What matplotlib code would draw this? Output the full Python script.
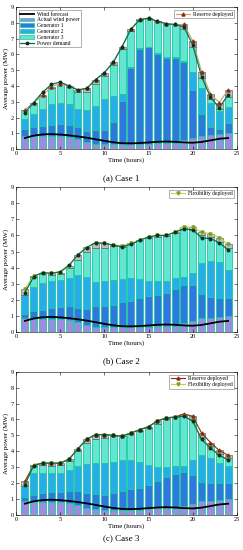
import numpy as np
import matplotlib
matplotlib.use("Agg")
import matplotlib.pyplot as plt
from matplotlib.patches import Patch
from matplotlib.lines import Line2D

plt.rcParams['font.family'] = ['Liberation Serif', 'DejaVu Serif']

hours = np.arange(1, 25)

# shared wind data
wind_fc = [0.7, 0.85, 0.93, 0.95, 0.92, 0.87, 0.8, 0.72, 0.62, 0.52, 0.43, 0.37,
           0.36, 0.38, 0.42, 0.46, 0.48, 0.46, 0.42, 0.4, 0.45, 0.55, 0.65, 0.7]
wind_act = [0.85, 0.82, 0.82, 0.82, 0.8, 0.75, 0.62, 0.45, 0.35, 0.3, 0.3, 0.3,
            0.3, 0.3, 0.35, 0.4, 0.4, 0.4, 0.55, 0.7, 0.85, 0.9, 0.95, 1.0]

# stacked levels (top of each layer)
c1_g1 = [1.3, 1.4, 1.45, 1.55, 1.6, 1.55, 1.4, 1.15, 1.2, 1.2, 1.7, 3.05,
         5.15, 6.35, 6.45, 6.05, 5.8, 5.8, 5.55, 3.75, 2.2, 1.4, 1.3, 1.65]
c1_g2 = [1.9, 2.2, 2.55, 2.85, 2.95, 2.85, 2.55, 2.45, 2.75, 3.15, 3.35, 3.5,
         5.2, 6.4, 6.5, 6.1, 5.85, 5.85, 5.6, 4.9, 3.85, 2.9, 2.4, 2.65]
c1_g3 = [2.46, 2.9, 3.37, 3.9, 4.1, 3.95, 3.6, 3.6, 4.1, 4.65, 5.3, 6.35,
         7.5, 8.2, 8.3, 8.1, 7.95, 7.9, 7.6, 6.5, 4.5, 3.2, 2.55, 3.3]
c1_res = [2.5, 2.95, 3.4, 3.95, 4.15, 4.0, 3.75, 3.85, 4.4, 4.85, 5.5, 6.5,
          7.6, 8.25, 8.3, 8.1, 7.95, 7.9, 7.9, 6.85, 4.9, 3.5, 2.95, 3.75]
c1_dem = [2.3, 2.95, 3.6, 4.1, 4.25, 4.0, 3.75, 3.85, 4.4, 4.85, 5.5, 6.5,
          7.6, 8.2, 8.3, 8.1, 7.95, 7.9, 7.75, 6.6, 4.6, 3.3, 2.6, 3.45]

c2_g1 = [1.15, 1.3, 1.4, 1.5, 1.55, 1.6, 1.5, 1.45, 1.65, 1.6, 1.7, 1.85,
         1.95, 2.1, 2.25, 2.3, 2.4, 2.65, 2.95, 2.9, 2.35, 2.2, 2.15, 2.1]
c2_g2 = [2.3, 2.8, 3.05, 3.2, 3.25, 3.35, 3.55, 3.45, 3.1, 3.2, 3.25, 3.3,
         3.35, 3.3, 3.2, 3.2, 3.2, 3.35, 3.4, 3.7, 4.3, 4.4, 4.35, 3.85]
c2_g3 = [2.3, 3.45, 3.6, 3.55, 3.6, 4.0, 4.5, 5.0, 5.25, 5.25, 5.35, 5.3,
         5.5, 5.7, 5.85, 5.9, 5.95, 6.15, 6.4, 6.35, 6.0, 5.9, 5.6, 5.2]
c2_flx = [2.7, 3.5, 3.65, 3.65, 3.7, 4.1, 4.8, 5.25, 5.55, 5.5, 5.4, 5.35,
          5.5, 5.7, 5.9, 6.0, 6.0, 6.2, 6.55, 6.5, 6.2, 6.1, 5.85, 5.45]
c2_dem = [2.45, 3.45, 3.7, 3.65, 3.75, 4.15, 4.8, 5.25, 5.55, 5.5, 5.4, 5.3,
          5.45, 5.7, 5.9, 6.0, 6.0, 6.2, 6.4, 6.35, 5.85, 5.8, 5.55, 5.1]

c3_g1 = [1.1, 1.25, 1.35, 1.45, 1.45, 1.5, 1.5, 1.35, 1.3, 1.25, 1.35, 1.5,
         1.6, 1.7, 1.85, 2.1, 2.4, 2.55, 2.7, 2.5, 2.05, 2.0, 2.0, 2.0]
c3_g2 = [1.8, 2.6, 2.65, 2.65, 2.65, 2.8, 3.05, 3.2, 3.25, 3.25, 3.3, 3.45,
         3.45, 3.35, 3.15, 3.0, 3.0, 3.1, 3.1, 3.45, 3.75, 3.55, 3.25, 3.1]
c3_g3 = [1.8, 3.1, 3.15, 3.1, 3.15, 3.4, 4.0, 4.5, 4.8, 4.85, 4.95, 4.95,
         5.1, 5.25, 5.45, 5.7, 6.0, 6.15, 6.2, 6.0, 4.9, 4.3, 3.8, 3.55]
c3_res = [2.1, 3.15, 3.25, 3.25, 3.25, 3.5, 4.15, 4.75, 5.05, 5.05, 5.0, 4.95,
          5.15, 5.35, 5.55, 5.9, 6.1, 6.15, 6.35, 6.2, 5.15, 4.55, 4.05, 3.75]
c3_dem = [1.9, 3.1, 3.25, 3.25, 3.25, 3.5, 4.15, 4.75, 5.05, 5.05, 5.0, 4.95,
          5.15, 5.35, 5.55, 5.9, 6.1, 6.15, 6.2, 5.9, 4.75, 4.2, 3.75, 3.45]

C_WIND = '#9c8ce0'
C_G1 = '#2f78e0'
C_G2 = '#27aeea'
C_G3 = '#62e6d2'
C_EDGE = '#18c8a0'
C_DEM = '#0b6b4f'
C_RES = '#8a2c10'
C_FLX = '#c2d73a'

fig = plt.figure(figsize=(2.43, 5.5), dpi=100)
boxes = [[0.066, 0.729, 0.909, 0.258],
         [0.066, 0.396, 0.909, 0.264],
         [0.066, 0.064, 0.909, 0.26]]
captions = [('(a)', ' Case 1', 0.676), ('(b)', ' Case 2', 0.344), ('(c)', ' Case 3', 0.022)]


def draw_case(ax, g1, g2, g3, top, dem, mode):
    w = 0.8
    kw = dict(width=w, edgecolor=C_EDGE, linewidth=0.6)
    wa = np.array(wind_act)
    g1 = np.array(g1); g2 = np.array(g2); g3 = np.array(g3); top = np.array(top)
    ax.bar(hours, wa, color=C_WIND, **kw)
    ax.bar(hours, g1 - wa, bottom=wa, color=C_G1, **kw)
    ax.bar(hours, g2 - g1, bottom=g1, color=C_G2, **kw)
    ax.bar(hours, g3 - g2, bottom=g2, color=C_G3, **kw)
    ax.bar(hours, top - g3, bottom=g3, color='#b4b4b4', alpha=0.85,
           width=w, edgecolor='#555555', linewidth=0.5)
    ax.plot(hours, wind_fc, color='black', lw=1.3)
    handles = []
    if mode in ('res', 'both'):
        h, = ax.plot(hours, top, color='#c8a070' if mode == 'res' else C_RES, lw=0.8,
                     marker='^', ms=2.2, mfc=C_RES, mec=C_RES, label='Reserve deployed')
        handles.append(h)
    if mode in ('flx', 'both'):
        h, = ax.plot(hours, top if mode == 'flx' else dem, color=C_FLX, lw=0.8,
                     marker='v', ms=2.2, mfc=C_FLX, mec='#7a9a20', label='Flexibility deployed')
        handles.append(h)
    ax.plot(hours, dem, color=C_DEM, lw=0.9, marker='o', ms=1.8, mfc='#103020', mec='#103020')
    ax.set_xlim(0, 25)
    ax.set_ylim(0, 9)
    ax.set_xticks(range(0, 26, 5))
    ax.set_yticks(range(0, 10))
    ax.tick_params(direction='in', top=True, right=True, labelsize=4.5, length=2,
                   width=0.4, pad=1.5)
    for s in ax.spines.values():
        s.set_linewidth(0.4)
    ax.set_xlabel('Time (hours)', fontsize=5, labelpad=1)
    ax.set_ylabel('Average power (MW)', fontsize=5, labelpad=1)
    leg = ax.legend(handles=handles, loc='upper right', fontsize=4, frameon=True,
                    fancybox=False, edgecolor='#555555', handlelength=2.5,
                    borderpad=0.3, labelspacing=0.2, handletextpad=0.5)
    leg.get_frame().set_linewidth(0.4)
    return ax


ax1 = draw_case(fig.add_axes(boxes[0]), c1_g1, c1_g2, c1_g3, c1_res, c1_dem, 'res')
ax2 = draw_case(fig.add_axes(boxes[1]), c2_g1, c2_g2, c2_g3, c2_flx, c2_dem, 'flx')
ax3 = draw_case(fig.add_axes(boxes[2]), c3_g1, c3_g2, c3_g3, c3_res, c3_dem, 'both')

main_handles = [Line2D([], [], color='black', lw=1.3, label='Wind forecast'),
                Patch(facecolor=C_WIND, edgecolor=C_EDGE, lw=0.5, label='Actual wind power'),
                Patch(facecolor=C_G1, edgecolor=C_EDGE, lw=0.5, label='Generator 1'),
                Patch(facecolor=C_G2, edgecolor=C_EDGE, lw=0.5, label='Generator 2'),
                Patch(facecolor=C_G3, edgecolor=C_EDGE, lw=0.5, label='Generator 3'),
                Line2D([], [], color=C_DEM, lw=0.9, marker='o', ms=1.8, mfc='#103020',
                       mec='#103020', label='Power demand')]
res_leg = ax1.get_legend()
leg2 = ax1.legend(handles=main_handles, loc='upper left', fontsize=4, frameon=True,
                  fancybox=False, edgecolor='#555555', handlelength=2.5, borderpad=0.3,
                  labelspacing=0.15, handletextpad=0.5)
leg2.get_frame().set_linewidth(0.4)
ax1.add_artist(res_leg)

for lab, txt, y in captions:
    fig.text(0.5, y, lab + txt, ha='center', va='center', fontsize=6.5)

fig.savefig('out.png', dpi=100)
